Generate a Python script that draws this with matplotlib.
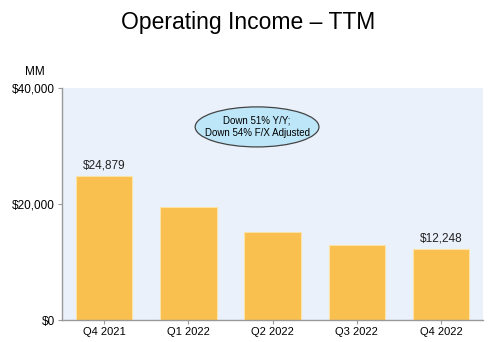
import matplotlib.pyplot as plt
from matplotlib.patches import Ellipse

plt.rcParams['font.family'] = ['Liberation Sans', 'DejaVu Sans']

quarters = ["Q4 2021", "Q1 2022", "Q2 2022", "Q3 2022", "Q4 2022"]
op_income = [24879, 19551, 15246, 12974, 12248]
yticks = [0, 20000, 40000]
ytick_labels = ["$0", "$20,000", "$40,000"]

fig = plt.figure(figsize=(4.96, 3.42), dpi=100)
ax = fig.add_axes([0.125, 0.0643, 0.849, 0.6787])
ax.set_facecolor("#EAF1FB")

x = range(len(quarters))
ax.bar(x, op_income, width=0.67, color="#F9BF4F", edgecolor="#FCE3A8", linewidth=0.8, zorder=2)

ax.set_xlim(-0.5, len(quarters) - 0.5)
ax.set_ylim(0, 40000)
ax.set_xticks(list(x))
ax.set_xticklabels(quarters, fontsize=8)
ax.set_yticks(yticks)
ax.set_yticklabels(ytick_labels, fontsize=8.5)
ax.tick_params(axis="both", length=3, width=0.8, color="#999999", pad=2)

for side in ["top", "right"]:
    ax.spines[side].set_visible(False)
for side in ["left", "bottom"]:
    ax.spines[side].set_color("#999999")
    ax.spines[side].set_linewidth(1.0)

# value callouts on first and last bar
for i in [0, len(quarters) - 1]:
    ax.text(i, op_income[i] + 700, "${:,}".format(op_income[i]),
            ha="center", va="bottom", fontsize=8.5, color="#222222")

ell = Ellipse((1.816, 33276), 1.47, 6900, facecolor="#BDE6F8",
              edgecolor="#444444", linewidth=0.9, zorder=3)
ax.add_patch(ell)
ax.text(1.816, 33276, "Down 51% Y/Y;\nDown 54% F/X Adjusted", ha="center",
        va="center", fontsize=7, linespacing=1.3, zorder=4)

fig.text(0.5, 0.935, "Operating Income \u2013 TTM", ha="center", va="center", fontsize=16.5)
fig.text(0.071, 0.79, "MM", ha="center", va="center", fontsize=8.5)

fig.savefig("out.png", dpi=100)
